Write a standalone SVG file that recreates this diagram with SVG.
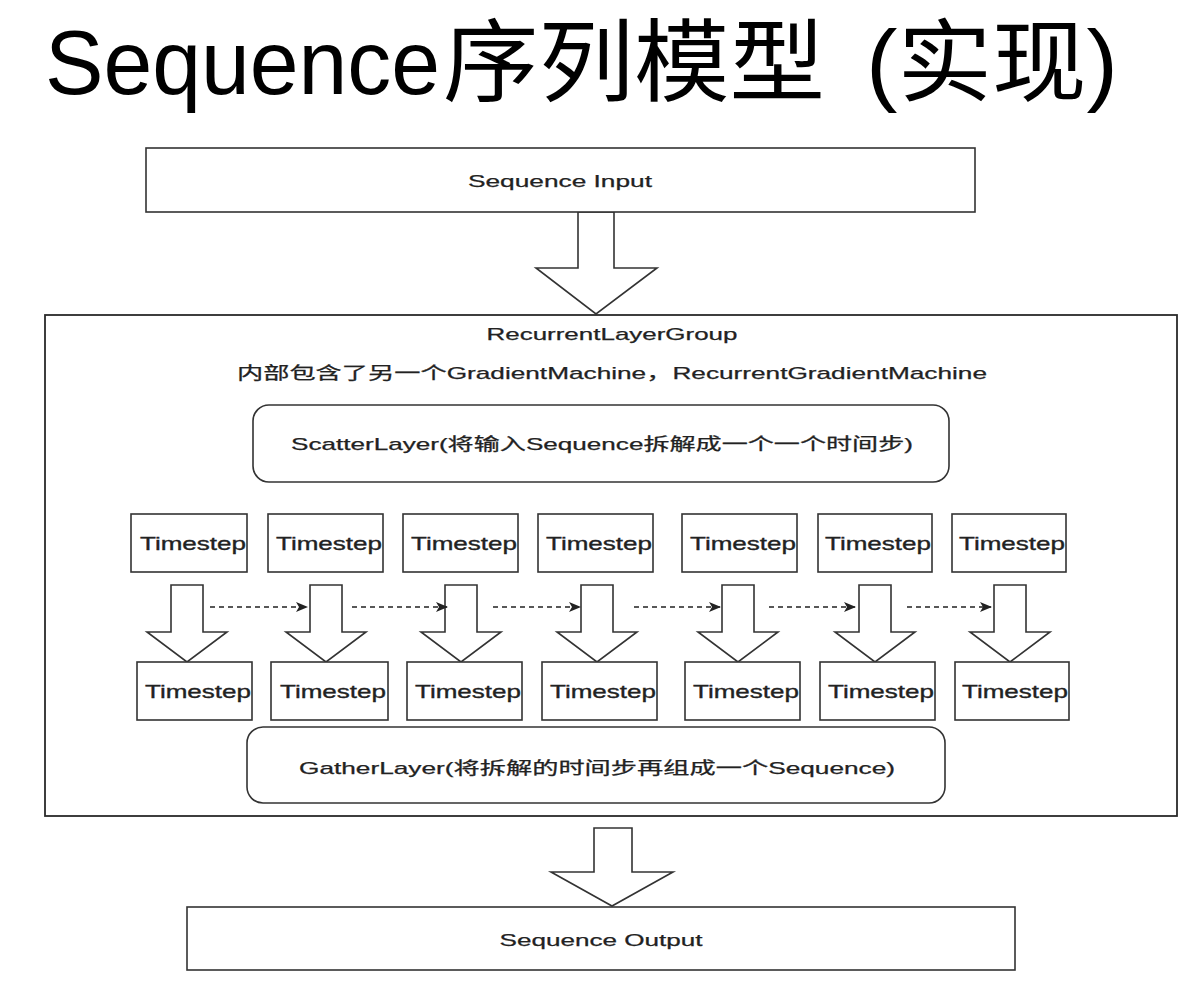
<svg xmlns="http://www.w3.org/2000/svg" width="1198" height="986" viewBox="0 0 1198 986">
<style>
  .box { fill: #ffffff; stroke: #333333; stroke-width: 1.6; }
  .grp { fill: none; stroke: #2a2a2a; stroke-width: 1.8; }
  .blk { fill: #ffffff; stroke: #333333; stroke-width: 1.6; stroke-linejoin: miter; }
  .lbl { font-family: "Liberation Sans", "Noto Sans CJK SC", sans-serif; font-size: 17px; fill: #222222; stroke: #222222; stroke-width: 0.25; text-anchor: middle; }
  .ts { font-family: "Liberation Sans", sans-serif; font-size: 19px; fill: #222222; stroke: #222222; stroke-width: 0.35; text-anchor: middle; }
  .dash { fill: none; stroke: #222222; stroke-width: 1.4; stroke-dasharray: 5 4; }
  .title { font-family: "Liberation Sans", "Noto Sans CJK SC", sans-serif; font-size: 90px; fill: #000000; }
</style>
<defs>
  <marker id="ah" markerWidth="12" markerHeight="10" refX="11" refY="5" orient="auto" markerUnits="userSpaceOnUse">
    <path d="M0,0 L12,5 L0,10 L3,5 z" fill="#222222"/>
  </marker>
</defs>

<g id="title">
  <text class="title" y="94"><tspan x="45" textLength="395" lengthAdjust="spacingAndGlyphs">Sequence</tspan><tspan x="443" textLength="382" lengthAdjust="spacingAndGlyphs">序列模型</tspan><tspan x="866" textLength="252" lengthAdjust="spacingAndGlyphs">(实现)</tspan></text>
</g>

<g id="connectors">
  <polygon class="blk" points="578,212 614,212 614,268 657,268 596,314 536,268 578,268"/>
  <polygon class="blk" transform="translate(187,585)" points="-16,0 16,0 16,47 40,47 0,77 -40,47 -16,47"/>
  <polygon class="blk" transform="translate(326,585)" points="-16,0 16,0 16,47 40,47 0,77 -40,47 -16,47"/>
  <polygon class="blk" transform="translate(461,585)" points="-16,0 16,0 16,47 40,47 0,77 -40,47 -16,47"/>
  <polygon class="blk" transform="translate(597,585)" points="-16,0 16,0 16,47 40,47 0,77 -40,47 -16,47"/>
  <polygon class="blk" transform="translate(738,585)" points="-16,0 16,0 16,47 40,47 0,77 -40,47 -16,47"/>
  <polygon class="blk" transform="translate(875,585)" points="-16,0 16,0 16,47 40,47 0,77 -40,47 -16,47"/>
  <polygon class="blk" transform="translate(1010,585)" points="-16,0 16,0 16,47 40,47 0,77 -40,47 -16,47"/>
  <path class="dash" d="M210,607 H307" marker-end="url(#ah)"/>
  <path class="dash" d="M352,607 H447" marker-end="url(#ah)"/>
  <path class="dash" d="M493,607 H580" marker-end="url(#ah)"/>
  <path class="dash" d="M634,607 H720" marker-end="url(#ah)"/>
  <path class="dash" d="M769,607 H855" marker-end="url(#ah)"/>
  <path class="dash" d="M907,607 H991" marker-end="url(#ah)"/>
  <polygon class="blk" points="594,828 632,828 632,872 673,872 612,906 551,872 594,872"/>
</g>

<g id="sequence-input">
  <rect class="box" x="146" y="148" width="829" height="64"/>
  <text class="lbl" x="560" y="187" textLength="184" lengthAdjust="spacingAndGlyphs">Sequence Input</text>
</g>

<g id="recurrent-layer-group">
  <rect class="grp" x="45" y="315" width="1132" height="501"/>
  <text class="lbl" x="612" y="340" textLength="251" lengthAdjust="spacingAndGlyphs">RecurrentLayerGroup</text>
  <text class="lbl" x="612" y="379" textLength="750" lengthAdjust="spacingAndGlyphs">内部包含了另一个GradientMachine，RecurrentGradientMachine</text>
</g>

<g id="scatter-layer">
  <rect class="box" x="253" y="405" width="696" height="77" rx="16" ry="16"/>
  <text class="lbl" x="602" y="450" textLength="622" lengthAdjust="spacingAndGlyphs">ScatterLayer(将输入Sequence拆解成一个一个时间步)</text>
</g>

<g id="timestep-top-1"><rect class="box" x="131" y="514" width="116" height="58"/><text class="ts" x="193" y="550" textLength="106" lengthAdjust="spacingAndGlyphs">Timestep</text></g>
<g id="timestep-top-2"><rect class="box" x="268" y="514" width="115" height="58"/><text class="ts" x="329" y="550" textLength="106" lengthAdjust="spacingAndGlyphs">Timestep</text></g>
<g id="timestep-top-3"><rect class="box" x="403" y="514" width="115" height="58"/><text class="ts" x="464" y="550" textLength="106" lengthAdjust="spacingAndGlyphs">Timestep</text></g>
<g id="timestep-top-4"><rect class="box" x="538" y="514" width="115" height="58"/><text class="ts" x="599" y="550" textLength="106" lengthAdjust="spacingAndGlyphs">Timestep</text></g>
<g id="timestep-top-5"><rect class="box" x="682" y="514" width="115" height="58"/><text class="ts" x="743" y="550" textLength="106" lengthAdjust="spacingAndGlyphs">Timestep</text></g>
<g id="timestep-top-6"><rect class="box" x="818" y="514" width="114" height="58"/><text class="ts" x="878" y="550" textLength="106" lengthAdjust="spacingAndGlyphs">Timestep</text></g>
<g id="timestep-top-7"><rect class="box" x="952" y="514" width="114" height="58"/><text class="ts" x="1012" y="550" textLength="106" lengthAdjust="spacingAndGlyphs">Timestep</text></g>

<g id="timestep-bottom-1"><rect class="box" x="137" y="662" width="115" height="58"/><text class="ts" x="198" y="698" textLength="106" lengthAdjust="spacingAndGlyphs">Timestep</text></g>
<g id="timestep-bottom-2"><rect class="box" x="271" y="662" width="117" height="58"/><text class="ts" x="333" y="698" textLength="106" lengthAdjust="spacingAndGlyphs">Timestep</text></g>
<g id="timestep-bottom-3"><rect class="box" x="407" y="662" width="115" height="58"/><text class="ts" x="468" y="698" textLength="106" lengthAdjust="spacingAndGlyphs">Timestep</text></g>
<g id="timestep-bottom-4"><rect class="box" x="542" y="662" width="115" height="58"/><text class="ts" x="603" y="698" textLength="106" lengthAdjust="spacingAndGlyphs">Timestep</text></g>
<g id="timestep-bottom-5"><rect class="box" x="685" y="662" width="115" height="58"/><text class="ts" x="746" y="698" textLength="106" lengthAdjust="spacingAndGlyphs">Timestep</text></g>
<g id="timestep-bottom-6"><rect class="box" x="820" y="662" width="115" height="58"/><text class="ts" x="881" y="698" textLength="106" lengthAdjust="spacingAndGlyphs">Timestep</text></g>
<g id="timestep-bottom-7"><rect class="box" x="955" y="662" width="114" height="58"/><text class="ts" x="1015" y="698" textLength="106" lengthAdjust="spacingAndGlyphs">Timestep</text></g>

<g id="gather-layer">
  <rect class="box" x="247" y="727" width="698" height="76" rx="16" ry="16"/>
  <text class="lbl" x="597" y="774" textLength="596" lengthAdjust="spacingAndGlyphs">GatherLayer(将拆解的时间步再组成一个Sequence)</text>
</g>

<g id="sequence-output">
  <rect class="box" x="187" y="907" width="828" height="63"/>
  <text class="lbl" x="601" y="946" textLength="203" lengthAdjust="spacingAndGlyphs">Sequence Output</text>
</g>
</svg>
